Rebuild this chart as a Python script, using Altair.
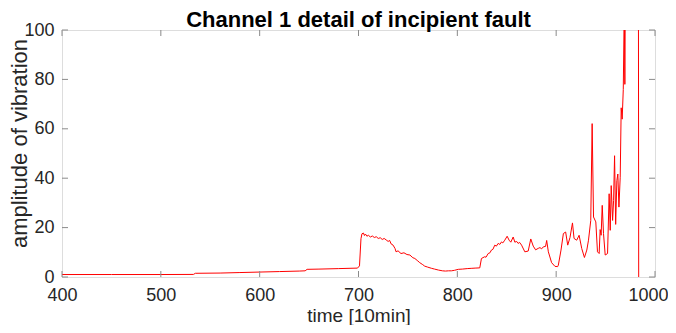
import altair as alt
import pandas as pd

# ---- data ----
time = [400, 450, 500, 533, 535, 560, 580, 600, 620, 640, 646, 648, 660, 680, 699, 701,
        702.5, 703.5, 705, 706, 707, 708.5, 710, 712, 714, 716, 718, 720, 722, 724, 726, 728,
        730, 731.5, 733, 735, 737, 738, 740, 743, 746, 749, 752, 755, 757, 760, 762, 765, 767,
        770, 774, 777, 781, 785, 788, 791, 794, 797, 801, 805, 810, 814, 818, 822.7, 824.4,
        827.7, 829, 831.2, 833, 834.5, 836, 837.9, 839.5, 841.3, 843, 844.7, 846, 848, 850.4,
        852.4, 854.1, 856.5, 858.2, 860, 861.5, 863, 865, 868.3, 871.7, 874.3, 876.8, 879.2,
        881.9, 883.6, 885.3, 887, 889.3, 890.4, 892.1, 895.4, 898.8, 901.5, 902.2, 904.9, 907.3,
        909.6, 911.7, 914, 916.5, 918.1, 920.8, 923.2, 925.9, 928.6, 931, 932.7, 935, 936.4,
        937.8, 940.1, 941.8, 943.5, 944.5, 945.5, 946.6, 947.9, 949.6, 952, 953.6, 954.7, 955.7,
        957.1, 958.1, 959.1, 960.2, 961.4, 962.4, 963.5, 964.8, 965.8, 966.8, 967.9, 968.9,
        969.5, 970.2, 971, 975, 980, 983, 983.5]
amplitude = [1.0, 1.0, 1.0, 1.05, 1.5, 1.6, 1.8, 2.0, 2.2, 2.4, 2.5, 3.1, 3.2, 3.4, 3.6, 4.5,
             15.5, 17.5, 17.8, 16.8, 17.4, 16.5, 16.9, 16.2, 16.6, 16.0, 16.3, 15.6, 15.9, 15.2,
             15.6, 15.0, 14.4, 14.8, 13.4, 12.9, 11.5, 10.2, 10.6, 9.5, 9.8, 9.1, 8.9, 7.8, 7.5,
             6.5, 5.8, 5.0, 4.4, 4.0, 3.5, 3.2, 2.8, 2.5, 2.4, 2.5, 2.5, 2.7, 3.1, 3.2, 3.4, 3.5,
             3.6, 3.7, 7.5, 8.2, 8.0, 9.5, 9.8, 10.9, 11.2, 12.9, 12.5, 13.6, 13.2, 14.2, 13.8,
             14.9, 16.5, 14.9, 14.1, 16.2, 14.1, 14.4, 13.6, 14.0, 12.9, 10.2, 10.5, 15.4, 12.5,
             11.0, 11.6, 11.9, 11.4, 12.2, 12.4, 14.8, 10.2, 5.8, 4.3, 4.2, 4.8, 10.9, 17.6,
             18.2, 12.9, 16.0, 21.9, 15.6, 14.9, 16.9, 11.5, 7.9, 10.9, 14.9, 22.9, 62.1, 24.3,
             22.3, 10.2, 9.5, 19.2, 16.9, 29.0, 17.6, 8.9, 9.5, 33.7, 18.9, 37.0, 22.9, 31.0,
             49.1, 21.3, 39.0, 41.7, 28.3, 40.4, 68.5, 63.9, 75.9, 110, 78, 130, 150, 180, 200,
             220, 0]
x_ticks = [400, 500, 600, 700, 800, 900, 1000]
y_ticks = [0, 20, 40, 60, 80, 100]

title_text = "Channel 1 detail of incipient fault"
x_title = "time [10min]"
y_title = "amplitude of vibration"

# ---- chart ----
W, H = 593, 247
TICK = 6
GRAY = "#8a8a8a"
TXT = "#262626"
FONT = "Liberation Sans"

df = pd.DataFrame({"time": time, "amp": amplitude})
xt = pd.DataFrame({"time": x_ticks})
yt = pd.DataFrame({"amp": y_ticks})

xs = alt.Scale(domain=[400, 1000], nice=False, zero=False)
ys = alt.Scale(domain=[0, 100], nice=False)

x_axis = alt.Axis(
    values=x_ticks, format="d", ticks=False, grid=False, domain=False, labelFontSize=18,
    labelFont=FONT, labelColor=TXT, labelPadding=9, labelFlush=False,
    labelAlign={"expr": "datum.value >= 1000 ? 'right' : 'center'"},
    labelOffset={"expr": "datum.value >= 1000 ? 13 : 0"},
    title=x_title, titleFont=FONT, titleFontSize=19, titleFontWeight="normal",
    titleColor=TXT, titleX=W / 2, titleY=38, titleBaseline="middle", titleAlign="center")
y_axis = alt.Axis(
    values=y_ticks, format="d", ticks=False, grid=False, domain=False, labelFontSize=18,
    labelFont=FONT, labelColor=TXT, labelPadding=8, labelFlush=False,
    title=y_title, titleFont=FONT, titleFontSize=22, titleFontWeight="normal",
    titleColor=TXT, titleAngle=270, titleX=-43, titleY=113,
    titleBaseline="middle", titleAlign="center")

line = alt.Chart(df).mark_line(color="#ff0000", strokeWidth=1, clip=True).encode(
    x=alt.X("time:Q", scale=xs, axis=x_axis),
    y=alt.Y("amp:Q", scale=ys, axis=y_axis),
)

tick_x_bottom = alt.Chart(xt).mark_rule(color=GRAY, strokeWidth=1).encode(
    x=alt.X("time:Q", scale=xs, axis=x_axis), y=alt.value(H), y2=alt.value(H - TICK))
tick_x_top = alt.Chart(xt).mark_rule(color=GRAY, strokeWidth=1).encode(
    x=alt.X("time:Q", scale=xs, axis=x_axis), y=alt.value(0), y2=alt.value(TICK))
tick_y_left = alt.Chart(yt).mark_rule(color=GRAY, strokeWidth=1).encode(
    y=alt.Y("amp:Q", scale=ys, axis=y_axis), x=alt.value(0), x2=alt.value(TICK))
tick_y_right = alt.Chart(yt).mark_rule(color=GRAY, strokeWidth=1).encode(
    y=alt.Y("amp:Q", scale=ys, axis=y_axis), x=alt.value(W), x2=alt.value(W - TICK))

chart = alt.layer(line, tick_x_bottom, tick_x_top, tick_y_left, tick_y_right).properties(
    width=W, height=H,
    autosize=alt.AutoSizeParams(type="none"),
    padding={"left": 54, "top": 22, "right": 13, "bottom": 48},
    title=alt.Title(title_text, fontSize=22, fontWeight="bold", font=FONT, color="#000000",
                    anchor="middle", offset=-11),
).configure_view(stroke=GRAY, strokeWidth=1).configure(background="white")

chart.save("out.html", embed_options={"renderer": "svg", "actions": False})
